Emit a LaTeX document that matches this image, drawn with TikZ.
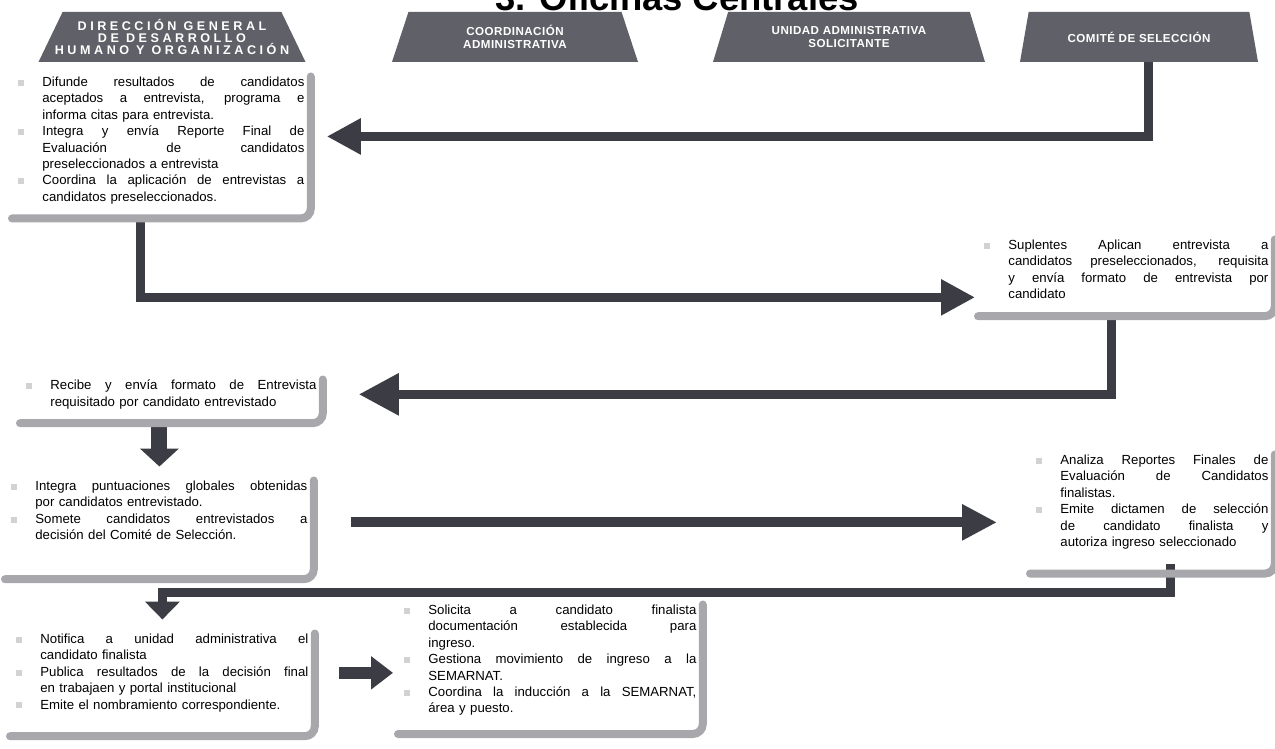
\documentclass[tikz,border=0pt]{standalone}
\usepackage{fontspec}
\setmainfont{Liberation Sans}
\newfontfamily\cabfont[LetterSpace=4]{Liberation Sans}
\newfontfamily\cabanchafont[LetterSpace=28]{Liberation Sans}
\usetikzlibrary{shapes.geometric,arrows.meta}
\definecolor{cabgris}{RGB}{96,96,104}
\definecolor{flechagris}{RGB}{60,60,68}
\definecolor{bandagris}{RGB}{168,168,172}
\definecolor{vineta}{RGB}{210,210,210}
\newlength\ancho
\newcommand\vin{\textcolor{vineta}{\rule[0.3pt]{3pt}{3pt}}}
\newcommand\lineaj[2]{\makebox[12pt][l]{#1}\hbox to \dimexpr\ancho-12pt\relax{\spaceskip=0.278em plus 1fil\relax #2}}
\newcommand\lineal[2]{\makebox[12pt][l]{#1}#2}
\newcommand\banda[2]{\draw[banda] ([yshift=-7pt]#1.north east) -- ([yshift=-#2]#1.south east) -- ([yshift=-#2]#1.south west);}
\tikzset{
 cabecera/.style={trapezium, trapezium left angle=59, trapezium right angle=59, trapezium stretches body=true, fill=cabgris, text=white, minimum height=25pt, inner sep=1pt, align=center, font=\cabfont\bfseries\fontsize{5.8pt}{6.5pt}\selectfont},
 paso/.style={anchor=north west, align=left, inner xsep=3pt, inner ysep=7pt, text width=#1, execute at begin node={\setlength\ancho{#1}}, font=\fontsize{6.6pt}{8.2pt}\selectfont},
 banda/.style={draw=bandagris, line width=4pt, rounded corners=5pt, line cap=round},
 conector/.style={draw=flechagris, line width=4.5pt, -{Triangle[length=17pt,width=17pt]}},
 bloque/.style={draw=flechagris, line width=8pt, -{Triangle[length=9pt,width=19pt]}}
}
\begin{document}
\begin{tikzpicture}[x=0.5pt,y=-0.5pt]
\useasboundingbox (0,0) rectangle (1275,749);
\clip (0,0) rectangle (1275,749);
\fill[white] (0,0) rectangle (1275,749);
\node (h1) at (172,37) [cabecera, minimum width=133.5pt, inner xsep=-10pt, font=\cabanchafont\bfseries\fontsize{6.3pt}{6.2pt}\selectfont] {DIRECCIÓN GENERAL\\DE DESARROLLO\\HUMANO Y ORGANIZACIÓN};
\node (h2) at (515,37) [cabecera, minimum width=123pt] {COORDINACIÓN\\ADMINISTRATIVA};
\node (h3) at (849,37) [cabecera, minimum width=136pt] {UNIDAD ADMINISTRATIVA\\SOLICITANTE};
\node (h4) at (1139,37) [cabecera, minimum width=119pt] {COMITÉ DE SELECCIÓN};
\node (titulo) at (677,11) [anchor=base, font=\bfseries\fontsize{18.2pt}{18pt}\selectfont] {3. Oficinas Centrales};
\node (b1) at (12,62.5) [paso=143pt] {%
\lineaj{\vin}{Difunde resultados de candidatos}\\
\lineaj{}{aceptados a entrevista, programa e}\\
\lineal{}{informa citas para entrevista.}\\
\lineaj{\vin}{Integra y envía Reporte Final de}\\
\lineaj{}{Evaluación de candidatos}\\
\lineal{}{preseleccionados a entrevista}\\
\lineaj{\vin}{Coordina la aplicación de entrevistas a}\\
\lineal{}{candidatos preseleccionados.}};
\node (b2) at (978,225.5) [paso=142pt] {%
\lineaj{\vin}{Suplentes Aplican entrevista a}\\
\lineaj{}{candidatos preseleccionados, requisita}\\
\lineaj{}{y envía formato de entrevista por}\\
\lineal{}{candidato}};
\node (b3) at (20,365.5) [paso=145pt] {%
\lineaj{\vin}{Recibe y envía formato de Entrevista}\\
\lineal{}{requisitado por candidato entrevistado}};
\node (b4) at (5,466.5) [paso=148pt] {%
\lineaj{\vin}{Integra puntuaciones globales obtenidas}\\
\lineal{}{por candidatos entrevistado.}\\
\lineaj{\vin}{Somete candidatos entrevistados a}\\
\lineal{}{decisión del Comité de Selección.}};
\node (b5) at (1030,440.5) [paso=116pt] {%
\lineaj{\vin}{Analiza Reportes Finales de}\\
\lineaj{}{Evaluación de Candidatos}\\
\lineal{}{finalistas.}\\
\lineaj{\vin}{Emite dictamen de selección}\\
\lineaj{}{de candidato finalista y}\\
\lineal{}{autoriza ingreso seleccionado}};
\node (b6) at (10,619.5) [paso=146pt] {%
\lineaj{\vin}{Notifica a unidad administrativa el}\\
\lineal{}{candidato finalista}\\
\lineaj{\vin}{Publica resultados de la decisión final}\\
\lineal{}{en trabajaen y portal institucional}\\
\lineal{\vin}{Emite el nombramiento correspondiente.}};
\node (b7) at (398,590.5) [paso=146pt] {%
\lineaj{\vin}{Solicita a candidato finalista}\\
\lineaj{}{documentación establecida para}\\
\lineal{}{ingreso.}\\
\lineaj{\vin}{Gestiona movimiento de ingreso a la}\\
\lineal{}{SEMARNAT.}\\
\lineaj{\vin}{Coordina la inducción a la SEMARNAT,}\\
\lineal{}{área y puesto.}};
\draw[conector, shorten >=8pt] ([xshift=4.5pt]h4.south) |- ([yshift=2pt]b1.east);
\draw[conector, shorten >=1.5pt] ([xshift=-10.5pt]b1.south) |- ([yshift=-14pt]b2.west);
\draw[conector, shorten >=18pt, -{Triangle[length=20pt,width=20pt]}] ([xshift=-7.5pt]b2.south) |- (b3.east);
\draw[bloque] (b3.south -| b4.north) -- (b4.north);
\draw[conector, line width=5pt, shorten <=18.5pt, shorten >=16.5pt, -{Triangle[length=17.5pt,width=17pt]}] ([yshift=-6pt]b4.east) -- ([yshift=-6pt]b4.east -| b5.west);
\draw[conector, -{Triangle[length=9pt,width=17pt]}] ([xshift=9pt]b5.south) -- ++(0,29) -| (b6.north);
\draw[bloque, line width=6pt, shorten <=12pt, shorten >=2.5pt, -{Triangle[length=11pt,width=16pt]}] (b6.east) -- (b6.east -| b7.west);
\banda{b1}{0pt}
\banda{b2}{1.5pt}
\banda{b3}{0pt}
\banda{b4}{12.5pt}
\banda{b5}{5pt}
\banda{b6}{5pt}
\banda{b7}{2pt}
\end{tikzpicture}
\end{document}
